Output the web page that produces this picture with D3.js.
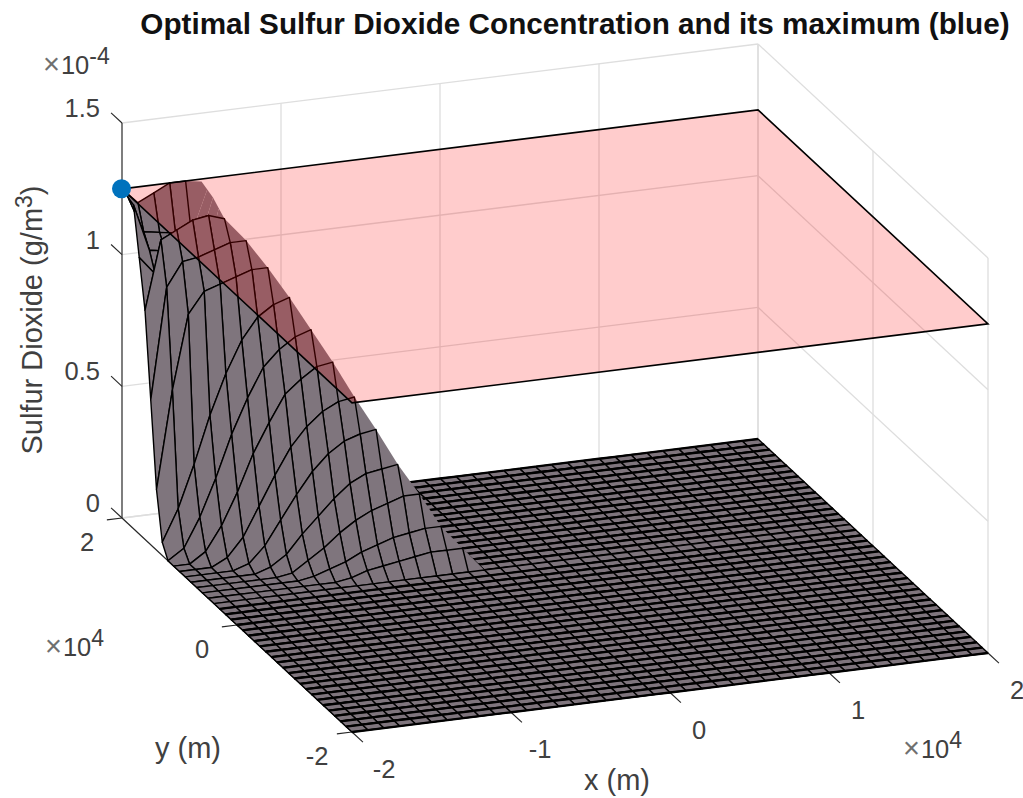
<!DOCTYPE html>
<html>
<head>
<meta charset="utf-8">
<script src="https://cdn.jsdelivr.net/npm/d3@7/dist/d3.min.js"></script>
<style>
html,body{margin:0;padding:0;background:#fff}
text{font-family:"Liberation Sans",Arial,sans-serif}
</style>
</head>
<body>
<svg id="c" width="1023" height="798"></svg>
<script>
// ---- data ----
const titleText = "Optimal Sulfur Dioxide Concentration and its maximum (blue)";
const xTicks = [-2,-1,0,1,2];
const yTicks = [-2,0,2];
const zTicks = [0,0.5,1,1.5];
const zTickLabels = ["0","0.5","1","1.5"];
const planeLevel = 1.25;               // maximum, x 1e-4 g/m^3
const peakPoint = [-2,2,1.25];
const gridCells = 40;                  // surface cells per side
// column of the wall's crest in each far row
const crestColumn = [4,4,4,4,5,6,7,8,9,10,11,12,13,14,15,16];
// surface heights, x 1e-6 g/m^3; row = steps from y=+2, column = steps from x=-2; the rest is 0
const wallRows = [
 [125,119,122,125,125,124],
 [124,110,109,108,107,123],
 [123,105,104,104,103,122],
 [105,98,97,96,95,120],
 [87,113,116,119,120,118],
 [55,97,106,107,109,111,111],
 [23,60,88,96,98,100,102,102],
 [5,17,33,51,66,78,86,90,92],
 [0,4,15,29,45,58,69,75,79,81],
 [0,0,4,13,25,39,50,60,65,69,70],
 [0,0,0,3,10,21,32,42,49,54,57,58],
 [0,0,0,0,2,8,17,26,34,40,44,46,47],
 [0,0,0,0,0,2,6,13,19,25,30,33,34,35],
 [0,0,0,0,0,0,1,5,9,14,18,21,23,25,25],
 [0,0,0,0,0,0,0,1,3,5,8,10,12,13,14,14],
 [0,0,0,0,0,0,0,0,0,1,3,4,5,6,7,7,7]
];

// ---- oblique 3-D projection built from linear scales ----
const originX = 122, originY = 518;
const xToH = d3.scaleLinear().domain([-2,2]).range([0,636]);
const xToV = d3.scaleLinear().domain([-2,2]).range([0,-79]);
const yToH = d3.scaleLinear().domain([2,-2]).range([0,230]);
const yToV = d3.scaleLinear().domain([2,-2]).range([0,214]);
const zToV = d3.scaleLinear().domain([0,1.5]).range([0,-395]);
const project = (x,y,z) => [originX + xToH(x) + yToH(y), originY + xToV(x) + yToV(y) + zToV(z)];
const colToX = d3.scaleLinear().domain([0,gridCells]).range([-2,2]);
const rowToY = d3.scaleLinear().domain([0,gridCells]).range([2,-2]);
const line = d3.line();
const svg = d3.select("#c");

const heightAt = (col,row) => {
  const r = wallRows[row];
  return (r && col < r.length) ? r[col]/100 : 0;
};
const corner = (col,row,flat) => project(colToX(col), rowToY(row), flat ? 0 : heightAt(col,row));

// ---- back walls and floor grid ----
const gridColor = "#dedede";
const grid = svg.append("g").attr("fill","none").attr("stroke",gridColor).attr("stroke-width",1.3);
const seg = (g,a,b) => g.append("path").attr("d",line([project(...a),project(...b)]));
zTicks.forEach(z => {
  seg(grid,[-2,2,z],[2,2,z]);
  seg(grid,[2,2,z],[2,-2,z]);
});
xTicks.forEach(x => {
  seg(grid,[x,2,0],[x,2,1.5]);
  seg(grid,[x,2,0],[x,-2,0]);
});
yTicks.forEach(y => {
  seg(grid,[2,y,0],[2,y,1.5]);
  seg(grid,[-2,y,0],[2,y,0]);
});

// ---- axes ----
const axisColor = "#262626";
const axes = svg.append("g").attr("fill","none").attr("stroke",axisColor).attr("stroke-width",1.1);
seg(axes,[-2,2,0],[-2,2,1.5]);
seg(axes,[-2,2,0],[-2,-2,0]);
seg(axes,[-2,-2,0],[2,-2,0]);
const tickStep = 0.19;
zTicks.forEach(z => seg(axes,[-2,2,z],[-2,2+tickStep*1.0,z]));
yTicks.forEach(y => seg(axes,[-2,y,0],[-2-tickStep*0.5,y,0]));
xTicks.forEach(x => seg(axes,[x,-2,0],[x,-2-tickStep,0]));

// ---- surface, far to near ----
const surfaceFill = "#7f757d";
const surface = svg.append("g").attr("fill",surfaceFill).attr("stroke","#000").attr("stroke-width",1.4).attr("stroke-linejoin","round");
const quad = (col,row,flat) => line([corner(col,row,flat),corner(col+1,row,flat),corner(col+1,row+1,flat),corner(col,row+1,flat)])+"Z";
const wallRowCount = wallRows.length + 1;
const drawCell = (col,row,flat) => {
  surface.append("path").attr("d", quad(col,row,flat));
  if (flat || row >= wallRowCount) {
    // near-level mesh lines come out heavier in the reference's rendering
    surface.append("path").attr("fill","none").attr("stroke-width",2.3)
      .attr("d", line([corner(col,row,flat),corner(col+1,row,flat)]));
    surface.append("path").attr("fill","none").attr("stroke-width",2.3)
      .attr("d", line([corner(col,row+1,flat),corner(col+1,row+1,flat)]));
  }
};
for (let row = 0; row < gridCells; row++) {
  const crest = row < crestColumn.length ? crestColumn[row] : -1;
  for (let col = gridCells-1; col >= 0; col--) {
    if (col === crest) {
      // fold on the crest: floor behind it, then the near part without mesh lines
      drawCell(col,row,true);
      const pts = [corner(col,row)];
      if (heightAt(col+1,row) > 0) pts.push(corner(col+1,row));
      pts.push(corner(col+1,row+1), corner(col,row+1));
      surface.append("path").attr("stroke","none").attr("d", line(pts)+"Z");
    } else {
      drawCell(col,row,crest >= 0 && col > crest);
    }
  }
}

// ---- translucent plane at the maximum ----
svg.append("path")
  .attr("d", line([[-2,2],[2,2],[2,-2],[-2,-2]].map(p => project(p[0],p[1],planeLevel)))+"Z")
  .attr("fill","#ff0000").attr("fill-opacity",0.2)
  .attr("stroke","#000").attr("stroke-width",1.6);

// ---- maximum ----
const peak = project(...peakPoint);
svg.append("circle").attr("cx",peak[0]-0.5).attr("cy",peak[1]).attr("r",9.5).attr("fill","#0072BD");

// ---- text ----
const tickColor = "#404040";
const label = (x,y,txt,anchor,size) => svg.append("text").attr("x",x).attr("y",y).attr("fill",tickColor)
  .attr("font-size",size||25.5).attr("text-anchor",anchor||"middle").text(txt);
zTicks.forEach((z,i) => {
  const p = project(-2,2,z);
  label(p[0]-22,p[1]-6,zTickLabels[i],"end");
});
xTicks.forEach(x => {
  const p = project(x,-2,0);
  label(p[0]+29+(x===-2?3:0),p[1]+46,String(x));
});
yTicks.forEach(y => {
  const p = project(-2,y,0);
  label(p[0]-35,p[1]+33,String(y));
});
const exponent = (x,y,power) => {
  const t = svg.append("text").attr("x",x).attr("y",y).attr("fill",tickColor).attr("font-size",25.5);
  t.append("tspan").attr("fill","#707070").attr("font-size",29).text("\u00d7");
  t.append("tspan").attr("dx",1).text("10");
  t.append("tspan").attr("dy",-10).attr("font-size",23).text(power);
};
exponent(43,74,"-4");
exponent(45,656,"4");
exponent(903,758,"4");
label(188,758,"y (m)","middle",29);
label(617,790,"x (m)","middle",29);
const yl = svg.append("text").attr("transform","translate(42,320) rotate(-90)")
  .attr("text-anchor","middle").attr("fill",tickColor).attr("font-size",29);
yl.append("tspan").text("Sulfur Dioxide (g/m");
yl.append("tspan").attr("dy",-10).attr("font-size",23).text("3");
yl.append("tspan").attr("dy",10).text(")");
svg.append("text").attr("x",575).attr("y",34).attr("text-anchor","middle")
  .attr("font-size",29.7).attr("font-weight","bold").attr("fill","#111").text(titleText);
</script>
</body>
</html>
